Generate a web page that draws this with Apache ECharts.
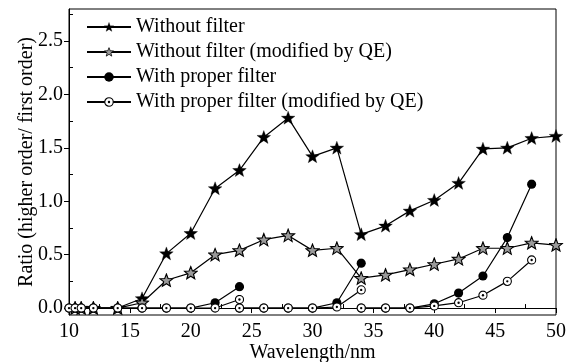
<!DOCTYPE html>
<html>
<head>
<meta charset="utf-8">
<script src="https://cdn.jsdelivr.net/npm/echarts@6/dist/echarts.min.js"></script>
<style>
html,body{margin:0;padding:0;background:#fff;}
#chart{width:567px;height:362px;}
</style>
</head>
<body>
<div id="chart"></div>
<script>
// ---- Data ----
const seriesNames = [
  'Without filter',
  'Without filter (modified by QE)',
  'With proper filter',
  'With proper filter (modified by QE)'
];
const starX = [10.5, 11, 12, 14, 16, 18, 20, 22, 24, 26, 28, 30, 32, 34, 36, 38, 40, 42, 44, 46, 48, 50];
const withoutFilter = [0, 0, 0, 0, 0.09, 0.51, 0.70, 1.12, 1.29, 1.60, 1.78, 1.42, 1.50, 0.69, 0.77, 0.91, 1.01, 1.17, 1.49, 1.50, 1.59, 1.61];
const withoutFilterQE = [0, 0, 0, 0, 0.05, 0.26, 0.33, 0.50, 0.54, 0.64, 0.68, 0.54, 0.56, 0.28, 0.31, 0.36, 0.41, 0.46, 0.56, 0.56, 0.61, 0.59];

const filterX1 = [10, 10.5, 11, 12, 14, 16, 18, 20, 22, 24];
const filterX2 = [24, 26, 28, 30, 32, 34];
const filterX3 = [34, 36, 38, 40, 42, 44, 46, 48];
const properFilter1 = [0, 0, 0, 0, 0, 0, 0, 0, 0.05, 0.20];
const properFilter2 = [0, 0, 0, 0, 0.05, 0.42];
const properFilter3 = [0, 0, 0, 0.04, 0.14, 0.30, 0.66, 1.16];
const properFilterQE1 = [0, 0, 0, 0, 0, 0, 0, 0, 0, 0.08];
const properFilterQE2 = [0, 0, 0, 0, 0.01, 0.17];
const properFilterQE3 = [0, 0, 0, 0.02, 0.05, 0.12, 0.25, 0.45];

const yLabels = [0, 0.5, 1.0, 1.5, 2.0, 2.5];
const yMinor = [0.25, 0.75, 1.25, 1.75, 2.25, 2.75];
const xMinor = [12.5, 17.5, 22.5, 27.5, 32.5, 37.5, 42.5, 47.5];

// ---- Symbols ----
function starPts(cx, cy, R, r) {
  const p = [];
  for (let i = 0; i < 10; i++) {
    const a = -Math.PI / 2 + i * Math.PI / 5;
    const rad = i % 2 === 0 ? R : r;
    p.push((cx + rad * Math.cos(a)).toFixed(2) + ',' + (cy + rad * Math.sin(a)).toFixed(2));
  }
  return p.join(' ');
}
function svgImg(inner) {
  const s = '<svg xmlns="http://www.w3.org/2000/svg" width="48" height="48" viewBox="0 0 24 24">' + inner + '</svg>';
  return 'image://data:image/svg+xml;charset=utf-8,' + encodeURIComponent(s);
}
const symFilledStar = svgImg('<polygon points="' + starPts(12, 12.8, 11.5, 4.8) + '" fill="#000" stroke="#000" stroke-width="0.5"/>');
const symOpenStar = svgImg('<polygon points="' + starPts(12, 12.8, 10.8, 4.6) + '" fill="#9a9a9a" stroke="#000" stroke-width="1.8" stroke-linejoin="miter"/>');
const symFilledCircle = svgImg('<circle cx="12" cy="12" r="11" fill="#000"/>');
const symOpenCircle = svgImg('<circle cx="12" cy="12" r="9.8" fill="#fff" stroke="#000" stroke-width="2.6"/><circle cx="12" cy="12" r="2.8" fill="#000"/>');

function pairs(xs, ys) { return xs.map((x, i) => [x, ys[i]]); }
function lineSeries(name, data, symbol, size) {
  return {
    type: 'line', name: name, data: data,
    symbol: symbol, symbolSize: size, showAllSymbol: true,
    lineStyle: { color: '#000', width: 1.2 },
    itemStyle: { color: '#000' },
    z: 3
  };
}

const FONT = '"Liberation Serif", "DejaVu Serif", serif';

const series = [
  lineSeries(seriesNames[0], pairs(starX, withoutFilter), symFilledStar, 15),
  lineSeries(seriesNames[1], pairs(starX, withoutFilterQE), symOpenStar, 15),
  lineSeries(seriesNames[2], pairs(filterX1, properFilter1), symFilledCircle, 10),
  lineSeries(seriesNames[2], pairs(filterX2, properFilter2), symFilledCircle, 10),
  lineSeries(seriesNames[2], pairs(filterX3, properFilter3), symFilledCircle, 10),
  lineSeries(seriesNames[3], pairs(filterX1, properFilterQE1), symOpenCircle, 10),
  lineSeries(seriesNames[3], pairs(filterX2, properFilterQE2), symOpenCircle, 10),
  lineSeries(seriesNames[3], pairs(filterX3, properFilterQE3), symOpenCircle, 10)
];

const chart = echarts.init(document.getElementById('chart'), null, { renderer: 'canvas' });
chart.setOption({
  animation: false,
  backgroundColor: '#fff',
  textStyle: { fontFamily: FONT },
  grid: { left: 69, right: 11, top: 9, bottom: 47, show: true, borderColor: '#000', borderWidth: 1, backgroundColor: 'transparent', containLabel: false, outerBoundsMode: 'none' },
  legend: {
    data: seriesNames,
    orient: 'vertical',
    left: 86, top: 17, padding: 0,
    itemWidth: 44, itemHeight: 13, itemGap: 5,
    textStyle: { fontFamily: FONT, fontSize: 20, color: '#000' },
    inactiveColor: '#000'
  },
  xAxis: [{
    type: 'value', min: 10, max: 50, interval: 5,
    name: 'Wavelength/nm', nameLocation: 'middle', nameGap: 28, nameMoveOverlap: false,
    nameTextStyle: { fontFamily: FONT, fontSize: 20, color: '#000' },
    axisLine: { show: true, lineStyle: { color: '#000', width: 1 } },
    axisTick: { show: true, inside: false, length: 5, lineStyle: { color: '#000' } },
    axisLabel: { fontFamily: FONT, fontSize: 20, color: '#000', margin: 7 },
    splitLine: { show: false }
  }, {
    type: 'value', min: 10, max: 50, position: 'bottom',
    axisLine: { show: false },
    axisTick: { show: true, inside: true, length: 4, customValues: xMinor, lineStyle: { color: '#000' } },
    axisLabel: { show: false },
    splitLine: { show: false }
  }],
  yAxis: [{
    type: 'value', min: -0.065, max: 2.8,
    name: 'Ratio (higher order/ first order)', nameLocation: 'middle', nameGap: 32, nameMoveOverlap: false,
    nameTextStyle: { fontFamily: FONT, fontSize: 20, color: '#000' },
    axisLine: { show: true, lineStyle: { color: '#000', width: 1 } },
    axisTick: { show: true, inside: false, length: 5, customValues: yLabels, lineStyle: { color: '#000' } },
    axisLabel: { fontFamily: FONT, fontSize: 20, color: '#000', margin: 6, customValues: yLabels, formatter: v => v.toFixed(1) },
    splitLine: { show: false }
  }, {
    type: 'value', min: -0.065, max: 2.8, position: 'left',
    axisLine: { show: false },
    axisTick: { show: true, inside: true, length: 4, customValues: yMinor, lineStyle: { color: '#000' } },
    axisLabel: { show: false },
    splitLine: { show: false }
  }],
  series: series
});
</script>
</body>
</html>
